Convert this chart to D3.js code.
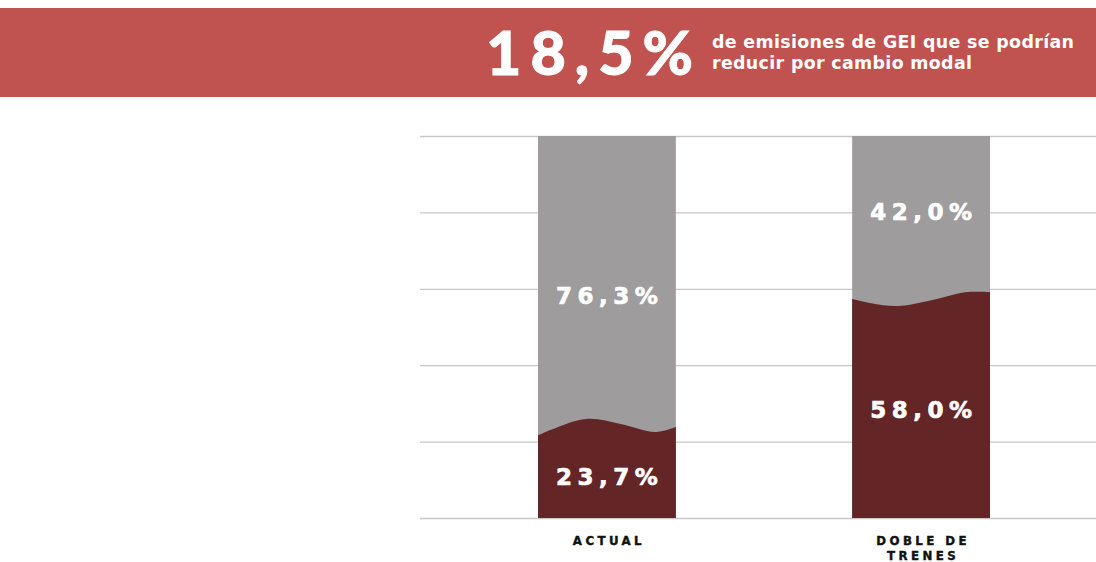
<!DOCTYPE html>
<html><head><meta charset="utf-8">
<script src="https://cdn.jsdelivr.net/npm/d3@7"></script>
<style>body{margin:0;background:#fff}svg{display:block}</style>
</head><body><svg id="c" width="1096" height="562"></svg>
<script>
const categories = [["ACTUAL"], ["DOBLE DE", "TRENES"]];
const trenValues = [23.7, 58.0];      // dark (bottom) share
const restoValues = [76.3, 42.0];     // gray (top) share
const yTicks = [0, 20, 40, 60, 80, 100];
const headlineValue = "18,5%";
const headlineText = ["de emisiones de GEI que se podrían", "reducir por cambio modal"];

// wave shape of the boundary (style only: [relative x, pixel offset])
const waves = [
  [[0,8],[0.1,2],[0.35,-8.5],[0.6,-3.5],[0.85,4.5],[1,-0.5]],
  [[0,2.5],[0.15,7],[0.33,9.5],[0.6,3],[0.82,-4.2],[1,-4.5]]
];

const svg = d3.select("#c");
const W = 1096;
// banner
svg.append("rect").attr("x",0).attr("y",8).attr("width",W).attr("height",89).attr("fill","#c0534f");
svg.append("text").attr("x",486).attr("y",75).attr("fill","#fff").attr("stroke","#fff").attr("stroke-width",1)
  .attr("font-family","Lato, sans-serif").attr("font-weight",900).attr("font-size",61)
  .attr("letter-spacing","9px").text(headlineValue);
headlineText.forEach((t,i)=>{
  svg.append("text").attr("x",712).attr("y",48+i*21).attr("fill","#fff")
   .attr("font-family","'DejaVu Sans', sans-serif").attr("font-weight",700).attr("font-size",17.4)
   .attr("letter-spacing","0.35px").text(t);
});

const y = d3.scaleLinear().domain([0,100]).range([518,136]);
const x = d3.scaleBand().domain(d3.range(categories.length)).range([538,990]).paddingInner(0.5612).paddingOuter(0);

// gridlines
svg.append("g")
  .attr("transform","translate(420,0)")
  .call(d3.axisLeft(y).tickValues(yTicks).tickSize(-(W-420)).tickFormat(""))
  .call(g=>g.select(".domain").remove())
  .call(g=>g.selectAll("line").attr("stroke","#c8c8c8").attr("stroke-width",1.3));

const line = d3.line().curve(d3.curveCatmullRom.alpha(0.5));
const ls = 5.5;
categories.forEach((cat,i)=>{
  const x0 = x(i), bw = x.bandwidth();
  svg.append("rect").attr("x",x0).attr("y",y(100)).attr("width",bw).attr("height",y(0)-y(100)).attr("fill","#9e9c9d");
  const yv = y(trenValues[i]);
  const pts = waves[i].map(([t,d])=>[x0+t*bw, yv+d]);
  let d = line(pts);
  d += `L${x0+bw},${y(0)}L${x0},${y(0)}Z`;
  svg.append("path").attr("d",d).attr("fill","#632526");
  const fmt = v => v.toFixed(1).replace(".",",")+"%";
  const cx = x0+bw/2;
  const lab = (v, yy) => svg.append("text").attr("x",cx+ls/2).attr("y",yy).attr("text-anchor","middle")
    .attr("fill","#fff").attr("stroke","#fff").attr("stroke-width",0.7)
    .attr("font-family","'DejaVu Sans', sans-serif").attr("font-weight",700).attr("font-size",23)
    .attr("letter-spacing",ls+"px").text(fmt(v));
  lab(restoValues[i], (y(100)+yv)/2+(i===0?22:4));
  lab(trenValues[i], (yv+y(0))/2+(i===0?12:11));
  cat.forEach((t,j)=>{
    svg.append("text").attr("x",cx+2).attr("y",545+j*15).attr("text-anchor","middle")
      .attr("fill","#111").attr("stroke","#111").attr("stroke-width",0.4)
      .attr("font-family","'DejaVu Sans', sans-serif").attr("font-weight",700).attr("font-size",11.8)
      .attr("letter-spacing","3.4px").text(t);
  });
});
</script></body></html>
